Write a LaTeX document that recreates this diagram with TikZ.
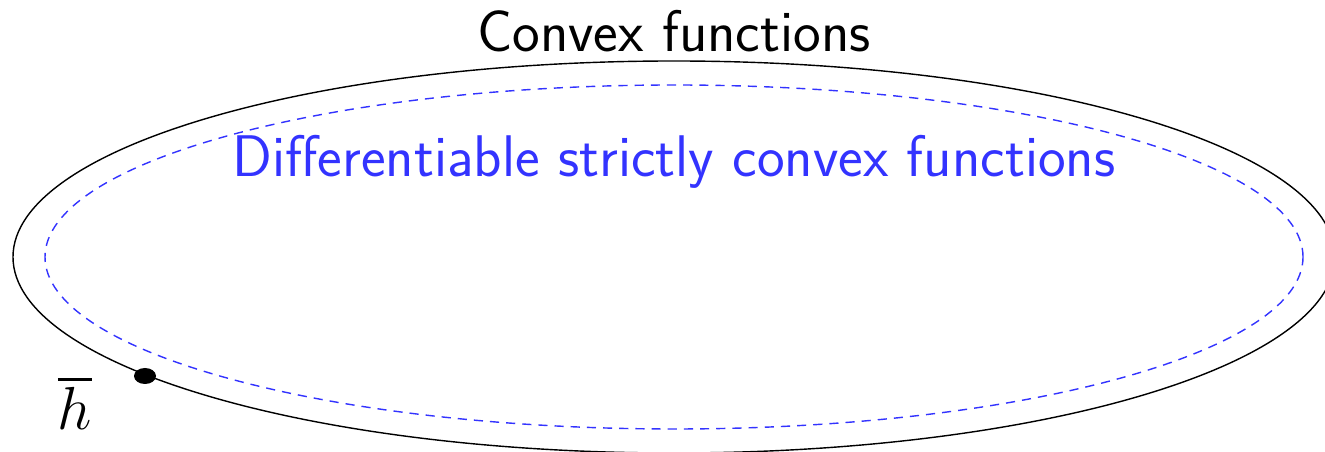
\documentclass[tikz,border=0pt]{standalone}
\usepackage{amssymb,amsmath}
\usepackage{tikz}

\begin{document}
\begin{tikzpicture}[x=0.01cm,y=0.01cm]
  \useasboundingbox (0,0) rectangle (1325,452);
  \tikzset{
    setlabel/.style={font=\sffamily\fontsize{16.7}{20}\selectfont, anchor=base},
    subset/.style={blue!80, dash pattern=on 2.6pt off 2pt}
  }
  % centre of both sets
  \coordinate (ctr) at (674,195);
  % convex functions
  \draw[black] (ctr) ellipse [x radius=661, y radius=196];
  \node[setlabel] (convex) at (674,400) {Convex functions};
  % differentiable strictly convex functions
  \draw[subset] (ctr) ellipse [x radius=629, y radius=172];
  \node[setlabel, blue!80] (strict) at (674,275) {Differentiable strictly convex functions};
  % the point h
  \coordinate (hpt) at (145,76);
  \fill[black] (hpt) ellipse [x radius=11, y radius=8];
  \node[anchor=base] (hlabel) at (75,22) {\fontsize{16.7}{20}\selectfont$\overline{h}$};
\end{tikzpicture}
\end{document}
